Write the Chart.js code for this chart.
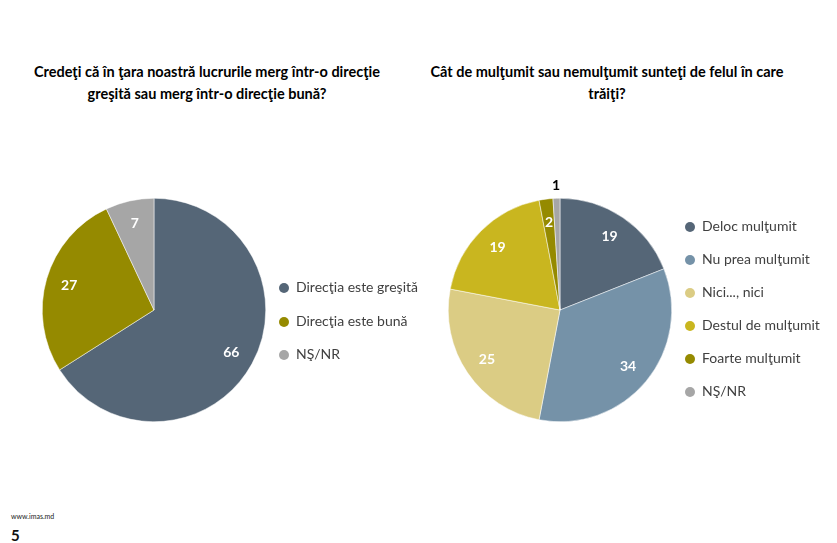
<!DOCTYPE html>
<html>
<head>
<meta charset="utf-8">
<script src="https://cdn.jsdelivr.net/npm/chart.js@4.4.1/dist/chart.umd.min.js"></script>
<style>
    body { margin: 0; width: 837px; height: 543px; background: #fff; position: relative; overflow: hidden; font-family: Lato, "Noto Sans", sans-serif; }
    .title { position: absolute; font-weight: bold; font-size: 14.5px; color: #000; text-align: center; line-height: 22px; }
    .chart-box { position: absolute; width: 264px; height: 264px; }
    .legend { position: absolute; font-size: 14px; color: #404040; }
    .legend-item { position: absolute; white-space: nowrap; line-height: 16px; }
    .legend-dot { display: inline-block; width: 10px; height: 10px; border-radius: 50%; margin-right: 7px; vertical-align: -1px; }
    .footer-url { position: absolute; left: 11px; top: 512px; font-size: 7px; color: #222; }
    .footer-page { position: absolute; left: 11px; top: 526px; font-size: 15px; font-weight: bold; color: #111; }
</style>
</head>
<body>

<div class="title" style="left: 7px; top: 61px; width: 400px;">Credeţi că în ţara noastră lucrurile merg într-o direcţie<br>greşită sau merg într-o direcţie bună?</div>
<div class="title" style="left: 417px; top: 61px; width: 380px;">Cât de mulţumit sau nemulţumit sunteţi de felul în care<br>trăiţi?</div>

<div class="chart-box" style="left: 22px; top: 178px;"><canvas id="leftChart" width="264" height="264"></canvas></div>
<div class="chart-box" style="left: 428px; top: 178px;"><canvas id="rightChart" width="264" height="264"></canvas></div>

<div class="legend" id="leftLegend"></div>
<div class="legend" id="rightLegend"></div>

<div class="footer-url">www.imas.md</div>
<div class="footer-page">5</div>

<script>
// Data
const directionLabels = ['Direcţia este greşită', 'Direcţia este bună', 'NŞ/NR'];
const directionValues = [66, 27, 7];

const satisfactionLabels = ['Deloc mulţumit', 'Nu prea mulţumit', 'Nici..., nici', 'Destul de mulţumit', 'Foarte mulţumit', 'NŞ/NR'];
const satisfactionValues = [19, 34, 25, 19, 2, 1];

// Colours
const directionColors = ['#556677', '#958A00', '#A6A6A6'];
const satisfactionColors = ['#556677', '#7592A8', '#DBCC84', '#C9B61F', '#958A00', '#A6A6A6'];

// Draw value labels on slices (small slices get their label outside)
const sliceLabels = {
    id: 'sliceLabels',
    afterDatasetsDraw(chart) {
        const ctx = chart.ctx;
        const meta = chart.getDatasetMeta(0);
        const values = chart.data.datasets[0].data;
        ctx.save();
        ctx.font = 'bold 14px Lato, "Noto Sans", sans-serif';
        ctx.textAlign = 'center';
        ctx.textBaseline = 'middle';
        meta.data.forEach((arc, i) => {
            const mid = (arc.startAngle + arc.endAngle) / 2;
            const outside = values[i] < 2;
            const dist = outside ? arc.outerRadius + 13 : arc.outerRadius * 0.79;
            ctx.fillStyle = outside ? '#000' : '#fff';
            ctx.fillText(values[i], arc.x + Math.cos(mid) * dist, arc.y + Math.sin(mid) * dist);
        });
        ctx.restore();
    }
};

function makePie(canvasId, labels, values, colors) {
    const ctx = document.getElementById(canvasId).getContext('2d');
    return new Chart(ctx, {
        type: 'pie',
        data: {
            labels: labels,
            datasets: [{
                data: values,
                backgroundColor: colors,
                borderColor: '#ffffff',
                borderWidth: 0.5
            }]
        },
        options: {
            responsive: false,
            animation: false,
            layout: { padding: 20 },
            plugins: {
                legend: { display: false },
                tooltip: { enabled: false }
            }
        },
        plugins: [sliceLabels]
    });
}

// HTML legends
function buildLegend(id, labels, colors, left, top, step) {
    const legend = document.getElementById(id);
    labels.forEach((label, i) => {
        const item = document.createElement('div');
        item.className = 'legend-item';
        item.style.left = left + 'px';
        item.style.top = (top + i * step) + 'px';
        item.innerHTML = `<span class="legend-dot" style="background:${colors[i]}"></span>${label}`;
        legend.appendChild(item);
    });
}

makePie('leftChart', directionLabels, directionValues, directionColors);
makePie('rightChart', satisfactionLabels, satisfactionValues, satisfactionColors);

buildLegend('leftLegend', directionLabels, directionColors, 279, 279, 33.5);
buildLegend('rightLegend', satisfactionLabels, satisfactionColors, 685, 218, 33);
</script>
</body>
</html>
